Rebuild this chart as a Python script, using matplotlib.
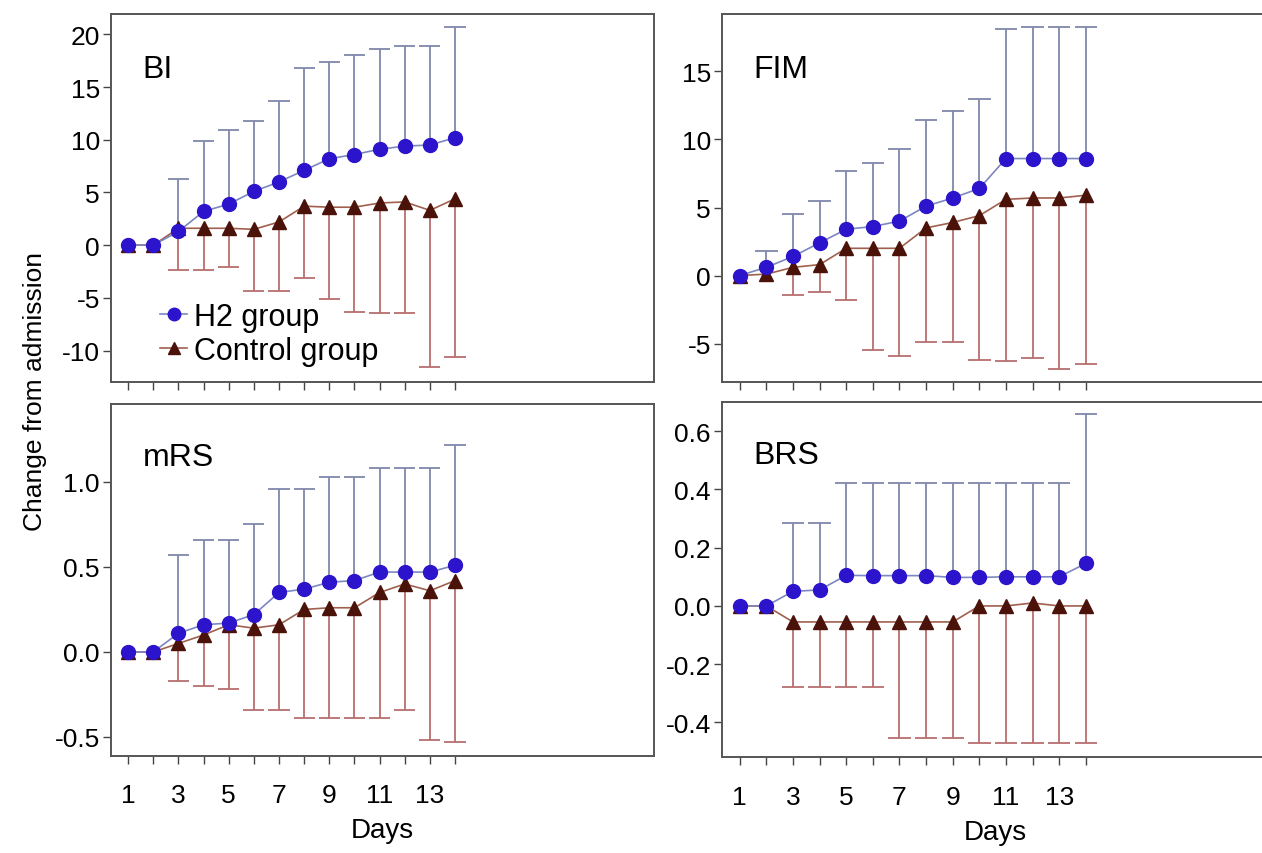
# -*- coding: utf-8 -*-
import matplotlib
matplotlib.use('Agg')
import matplotlib.pyplot as plt
import numpy as np

plt.rcParams['font.family'] = ['Liberation Sans', 'DejaVu Sans']
plt.rcParams['axes.unicode_minus'] = False

days = np.arange(1, 15)
xtick_labels = ['1', '', '3', '', '5', '', '7', '', '9', '', '11', '', '13', '']

# BI
bi_h2 = [0, 0, 1.3, 3.2, 3.9, 5.1, 6.0, 7.1, 8.2, 8.6, 9.1, 9.4, 9.5, 10.2]
bi_h2_up = [np.nan, np.nan, 6.3, 9.9, 10.9, 11.8, 13.7, 16.8, 17.4, 18.0, 18.6, 18.9, 18.9, 20.7]
bi_ctl = [0, 0, 1.6, 1.6, 1.6, 1.5, 2.2, 3.7, 3.6, 3.6, 4.0, 4.1, 3.3, 4.4]
bi_ctl_low = [np.nan, np.nan, -2.4, -2.4, -2.1, -4.4, -4.4, -3.1, -5.1, -6.3, -6.4, -6.4, -11.6, -10.6]

# FIM
fim_h2 = [0, 0.6, 1.4, 2.4, 3.4, 3.6, 4.0, 5.1, 5.7, 6.4, 8.6, 8.6, 8.6, 8.6]
fim_h2_up = [np.nan, 1.8, 4.5, 5.5, 7.7, 8.3, 9.3, 11.4, 12.1, 13.0, 18.1, 18.3, 18.3, 18.3]
fim_ctl = [0, 0.1, 0.6, 0.8, 2.0, 2.0, 2.0, 3.5, 3.9, 4.4, 5.6, 5.7, 5.7, 5.9]
fim_ctl_low = [np.nan, np.nan, -1.4, -1.2, -1.8, -5.5, -5.9, -4.9, -4.9, -6.2, -6.3, -6.1, -6.9, -6.5]

# mRS
mrs_h2 = [0, 0, 0.11, 0.16, 0.17, 0.22, 0.35, 0.37, 0.41, 0.42, 0.47, 0.47, 0.47, 0.51]
mrs_h2_up = [np.nan, np.nan, 0.57, 0.66, 0.66, 0.75, 0.96, 0.96, 1.03, 1.03, 1.08, 1.08, 1.08, 1.22]
mrs_ctl = [0, 0, 0.05, 0.10, 0.16, 0.14, 0.16, 0.25, 0.26, 0.26, 0.35, 0.40, 0.36, 0.42]
mrs_ctl_low = [np.nan, np.nan, -0.17, -0.20, -0.22, -0.34, -0.34, -0.39, -0.39, -0.39, -0.39, -0.34, -0.52, -0.53]

# BRS
brs_h2 = [0, 0, 0.05, 0.055, 0.105, 0.104, 0.104, 0.104, 0.098, 0.098, 0.10, 0.10, 0.10, 0.146]
brs_h2_up = [np.nan, np.nan, 0.286, 0.286, 0.423, 0.423, 0.423, 0.423, 0.423, 0.423, 0.423, 0.423, 0.423, 0.66]
brs_ctl = [0, 0, -0.055, -0.055, -0.055, -0.055, -0.055, -0.055, -0.055, 0.0, 0.0, 0.01, 0.0, 0.0]
brs_ctl_low = [np.nan, np.nan, -0.28, -0.28, -0.28, -0.28, -0.454, -0.454, -0.454, -0.47, -0.47, -0.47, -0.47, -0.47]

panels = [
    ('BI', bi_h2, bi_h2_up, bi_ctl, bi_ctl_low, [20, 15, 10, 5, 0, -5, -10], '%d', (-12.95, 21.9)),
    ('FIM', fim_h2, fim_h2_up, fim_ctl, fim_ctl_low, [15, 10, 5, 0, -5], '%d', (-7.8, 19.2)),
    ('mRS', mrs_h2, mrs_h2_up, mrs_ctl, mrs_ctl_low, [1.0, 0.5, 0.0, -0.5], '%.1f', (-0.61, 1.46)),
    ('BRS', brs_h2, brs_h2_up, brs_ctl, brs_ctl_low, [0.6, 0.4, 0.2, 0.0, -0.2, -0.4], '%.1f', (-0.52, 0.70)),
]

# положение осей в долях фигуры (правые панели уходят за край картинки)
boxes = [
    [0.088, 0.552, 0.430, 0.430],
    [0.572, 0.552, 0.434, 0.430],
    [0.088, 0.114, 0.430, 0.412],
    [0.572, 0.112, 0.434, 0.416],
]
xlims = [(0.32, 21.9), (0.33, 20.9), (0.32, 21.9), (0.33, 20.9)]

blue = '#2c14cc'
blue_bar = '#8088aa'
brown = '#4a1208'
red_bar = '#b86e6e'
cap = 0.42

fig = plt.figure(figsize=(12.62, 8.54), dpi=100)

for i, (name, h2, h2_up, ctl, ctl_low, yt, fmt, ylim) in enumerate(panels):
    ax = fig.add_axes(boxes[i])
    h2 = np.array(h2)
    h2_up = np.array(h2_up)
    ctl = np.array(ctl)
    ctl_low = np.array(ctl_low)

    # усы: у H2 только вверх, у контроля только вниз
    m = ~np.isnan(ctl_low)
    ax.vlines(days[m], ctl_low[m], ctl[m], color=red_bar, lw=1.3, zorder=1)
    ax.hlines(ctl_low[m], days[m] - cap, days[m] + cap, color=red_bar, lw=1.3, zorder=1)
    m = ~np.isnan(h2_up)
    ax.vlines(days[m], h2[m], h2_up[m], color=blue_bar, lw=1.3, zorder=1)
    ax.hlines(h2_up[m], days[m] - cap, days[m] + cap, color=blue_bar, lw=1.3, zorder=1)

    ax.plot(days, ctl, color='#a0604e', lw=1.2, marker='^', ms=10, mfc=brown, mec=brown,
            zorder=3, label='Control group')
    ax.plot(days, h2, color='#7c86c0', lw=1.2, marker='o', ms=10, mfc=blue, mec=blue,
            zorder=4, label='H2 group')

    ax.set_xlim(*xlims[i])
    ax.set_ylim(*ylim)
    ax.set_yticks(yt)
    ax.set_yticklabels([fmt % v for v in yt])
    ax.set_xticks(days)
    if i >= 2:
        ax.set_xticklabels(xtick_labels)
        ax.set_xlabel('Days', fontsize=20, labelpad=7)
    else:
        ax.set_xticklabels([])
    ax.tick_params(direction='out', length=6, width=1, labelsize=19, color='#444444', pad=2)
    ax.tick_params(axis='x', pad=14)
    for s in ax.spines.values():
        s.set_color('#555555')
        s.set_linewidth(1.4)
    ax.text(0.058, 0.85, name, transform=ax.transAxes, fontsize=23, va='center', ha='left')

    if i == 0:
        hs, ls = ax.get_legend_handles_labels()
        ax.legend(hs[::-1], ls[::-1], loc='center left', bbox_to_anchor=(0.09, 0.13),
                  frameon=False, fontsize=22, handlelength=0.9, handletextpad=0.2,
                  labelspacing=0.15, borderpad=0, borderaxespad=0, markerscale=0.9)

fig.text(0.028, 0.541, 'Change from admission', rotation=90, fontsize=19,
         ha='center', va='center')

fig.savefig('out.png', dpi=100)
